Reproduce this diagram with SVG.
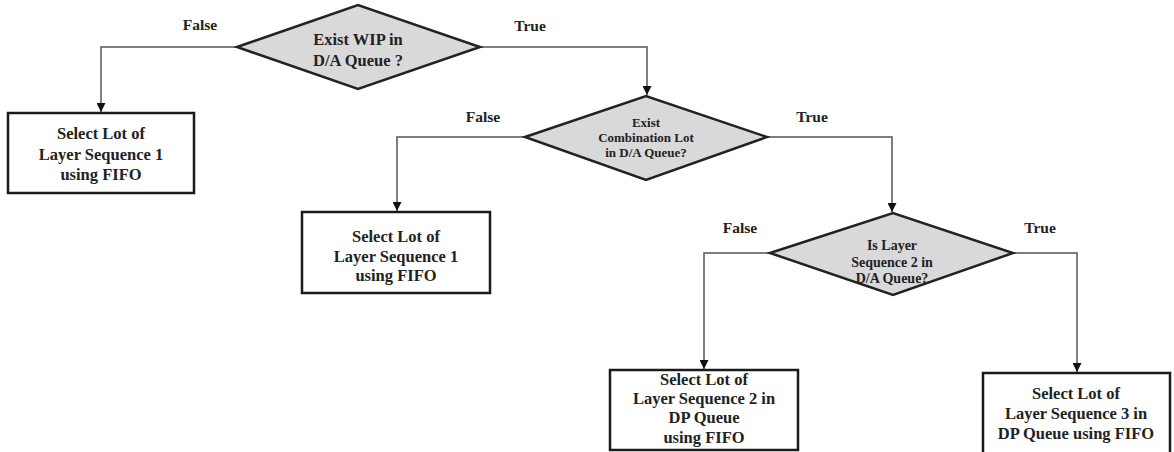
<svg xmlns="http://www.w3.org/2000/svg" width="1174" height="452" viewBox="0 0 1174 452">
<style>
.bg{fill:#ffffff}
.dia{fill:#d9d9d9;stroke:#222;stroke-width:2.5;stroke-linejoin:miter}
.box{fill:#ffffff;stroke:#1a1a1a;stroke-width:2.5}
.conn{fill:none;stroke:#555;stroke-width:1.5}
.t{font-family:"Liberation Serif","Times New Roman",serif;font-weight:bold;fill:#222;text-anchor:middle}
.bt{font-size:16.5px}
.dt{font-size:16.5px}
.dt2{font-size:13px}
.dt3{font-size:14px}
.lbl{font-size:15.5px}
</style>
<defs>
<marker id="arr" viewBox="0 0 10 10" refX="10" refY="5" markerWidth="9" markerHeight="9" markerUnits="userSpaceOnUse" orient="auto">
<path d="M0,0 L10,5 L0,10 z" fill="#111"/>
</marker>
</defs>
<rect class="bg" x="0" y="0" width="1174" height="452"/>
<g id="connectors">
<polyline class="conn" points="237,47 101,47 101,112" marker-end="url(#arr)"/>
<polyline class="conn" points="480,47 647,47 647,95" marker-end="url(#arr)"/>
<polyline class="conn" points="525,137 397,137 397,211" marker-end="url(#arr)"/>
<polyline class="conn" points="767,137 892,137 892,212" marker-end="url(#arr)"/>
<polyline class="conn" points="770,253 704,253 704,369" marker-end="url(#arr)"/>
<polyline class="conn" points="1013,253 1077,253 1077,372" marker-end="url(#arr)"/>
</g>
<g id="labels">
<text class="t lbl" x="200" y="30">False</text>
<text class="t lbl" x="530" y="31">True</text>
<text class="t lbl" x="483" y="122">False</text>
<text class="t lbl" x="812" y="122">True</text>
<text class="t lbl" x="740" y="233">False</text>
<text class="t lbl" x="1040" y="233">True</text>
</g>
<g id="d1">
<polygon class="dia" points="237,47 358,5 480,47 358,89"/>
<text class="t dt" x="358" y="45">Exist WIP in</text>
<text class="t dt" x="358" y="66">D/A Queue ?</text>
</g>
<g id="b1">
<rect class="box" x="8" y="113" width="186" height="80"/>
<text class="t bt" x="101" y="139">Select Lot of</text>
<text class="t bt" x="101" y="160">Layer Sequence 1</text>
<text class="t bt" x="101" y="180">using FIFO</text>
</g>
<g id="d2">
<polygon class="dia" points="525,137 646,96 767,137 646,180"/>
<text class="t dt2" x="646" y="127">Exist</text>
<text class="t dt2" x="646" y="142">Combination Lot</text>
<text class="t dt2" x="646" y="157">in D/A Queue?</text>
</g>
<g id="b2">
<rect class="box" x="302" y="212" width="188" height="81"/>
<text class="t bt" x="396" y="242">Select Lot of</text>
<text class="t bt" x="396" y="262">Layer Sequence 1</text>
<text class="t bt" x="396" y="281">using FIFO</text>
</g>
<g id="d3">
<polygon class="dia" points="770,253 893,213 1013,253 893,295"/>
<text class="t dt3" x="892" y="250">Is Layer</text>
<text class="t dt3" x="892" y="267">Sequence 2 in</text>
<text class="t dt3" x="892" y="283">D/A Queue?</text>
</g>
<g id="b4">
<rect class="box" x="610" y="370" width="188" height="80"/>
<text class="t bt" x="704" y="385">Select Lot of</text>
<text class="t bt" x="704" y="404">Layer Sequence 2 in</text>
<text class="t bt" x="704" y="423">DP Queue</text>
<text class="t bt" x="704" y="443">using FIFO</text>
</g>
<g id="b5">
<rect class="box" x="983" y="373" width="187" height="90"/>
<text class="t bt" x="1076" y="399">Select Lot of</text>
<text class="t bt" x="1076" y="419">Layer Sequence 3 in</text>
<text class="t bt" x="1076" y="439">DP Queue using FIFO</text>
</g>
</svg>
